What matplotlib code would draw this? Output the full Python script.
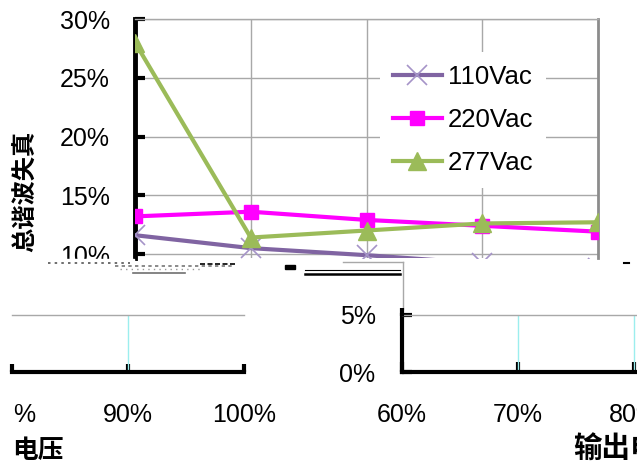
import matplotlib
matplotlib.use('Agg')
import matplotlib.pyplot as plt
from matplotlib.patches import Rectangle

plt.rcParams['font.family'] = ['Liberation Sans', 'Noto Sans CJK SC', 'DejaVu Sans']

W, H = 637, 468

# ---- data (top chart) ----
load_pos = [0, 1, 2, 3, 4]
series_names = ['110Vac', '220Vac', '277Vac']
thd_110 = [11.6, 10.5, 9.9, 9.2, 8.8]
thd_220 = [13.2, 13.6, 12.9, 12.4, 11.9]
thd_277 = [28.0, 11.4, 12.0, 12.6, 12.7]
top_y_ticks = [10, 15, 20, 25, 30]
top_y_labels = ['10%', '15%', '20%', '25%', '30%']
ylabel_top = '总谐波失真'

# ---- fragments of the lower charts ----
left_x_ticks = [80, 90, 100]
left_x_labels = ['80%', '90%', '100%']
xlabel_left = '电压'
right_x_ticks = [60, 70, 80]
right_x_labels = ['60%', '70%', '80%']
right_y_ticks = [0, 5]
right_y_labels = ['0%', '5%']
xlabel_right = '输出电流'

colors = ['#8064A2', '#FF00FF', '#9BBB59']
grid_c = '#A8A8A8'
cyan_c = '#9CEEEE'
CJK = ['Noto Sans CJK SC', 'DejaVu Sans']


def fbox(x0, y0, x1, y1):
    return [x0 / W, 1 - y1 / H, (x1 - x0) / W, (y1 - y0) / H]


fig = plt.figure(figsize=(W / 100, H / 100), dpi=100)

# ---------------- top chart ----------------
ax1 = fig.add_axes(fbox(135, 19, 598, 258))
ax1.set_xlim(0, 4)
ax1.set_ylim(10 - 4 / 11.75, 30)
ax1.plot(load_pos, thd_110, color=colors[0], lw=3, marker='x', ms=14,
         mec='#A594C8', mew=1.2, label=series_names[0], zorder=3)
ax1.plot(load_pos, thd_220, color=colors[1], lw=3, marker='s', ms=9.5,
         mec=colors[1], label=series_names[1], zorder=3)
ax1.plot(load_pos, thd_277, color=colors[2], lw=3, marker='^', ms=13,
         mec=colors[2], label=series_names[2], zorder=4)
ax1.set_yticks(top_y_ticks)
ax1.set_yticklabels(top_y_labels)
ax1.set_xticks(load_pos[1:-1])
ax1.set_xticklabels([])
ax1.grid(True, color=grid_c, lw=1)
ax1.tick_params(axis='x', length=0)
ax1.tick_params(axis='y', direction='in', length=7, width=3, color='black',
                labelsize=18, pad=18)
ax1.spines['left'].set_linewidth(3.5)
ax1.spines['left'].set_color('black')
ax1.spines['right'].set_color('#8C8C8C')
ax1.spines['right'].set_linewidth(2)
ax1.spines['top'].set_color(grid_c)
ax1.spines['top'].set_linewidth(1)
ax1.spines['bottom'].set_visible(False)
leg = ax1.legend(loc='upper left', bbox_to_anchor=(380 / W, 1 - 52 / H),
                 bbox_transform=fig.transFigure, fontsize=18.5, frameon=True,
                 facecolor='white', edgecolor='none', framealpha=1,
                 handlelength=1.9, handletextpad=0.25, labelspacing=0.75,
                 borderpad=0.5, borderaxespad=0)
fig.text(25 / W, 1 - 191 / H, ylabel_top, rotation=90, ha='center', va='center',
         fontsize=17.5, fontweight='bold', family=CJK)

# ---------------- lower-left fragment ----------------
ax2 = fig.add_axes(fbox(12, 315, 244, 372))
ax2.set_xlim(80, 100)
ax2.set_ylim(0, 5)
ax2.axvline(90, color=cyan_c, lw=1)
ax2.set_xticks(left_x_ticks)
ax2.set_xticklabels(left_x_labels)
ax2.set_yticks([])
ax2.tick_params(axis='x', direction='in', length=6, width=3, color='black',
                labelsize=18, pad=22)
for s in ['left', 'right']:
    ax2.spines[s].set_visible(False)
ax2.spines['bottom'].set_linewidth(3)
ax2.spines['top'].set_color(grid_c)
ax2.spines['top'].set_linewidth(1)
ax2.patch.set_alpha(0)

# ---------------- lower-right fragment ----------------
ax3 = fig.add_axes(fbox(402, 315, 637, 372))
ax3.set_xlim(60, 80 + 3 / 11.6)
ax3.set_ylim(0, 5)
for v in right_x_ticks[1:]:
    ax3.axvline(v, color=cyan_c, lw=1)
ax3.set_xticks(right_x_ticks)
ax3.set_xticklabels(right_x_labels)
ax3.set_yticks(right_y_ticks)
ax3.set_yticklabels(right_y_labels)
ax3.tick_params(axis='both', direction='in', length=7, width=3, color='black',
                labelsize=18)
ax3.tick_params(axis='x', pad=22)
ax3.tick_params(axis='y', pad=19)
ax3.spines['right'].set_visible(False)
ax3.spines['left'].set_linewidth(3)
ax3.spines['bottom'].set_linewidth(3)
ax3.spines['top'].set_color(grid_c)
ax3.spines['top'].set_linewidth(1)
ax3.patch.set_alpha(0)

# ---------------- overlay (glitch strip / cuts) ----------------
ov = fig.add_axes([0, 0, 1, 1], zorder=10)
ov.set_xlim(0, W)
ov.set_ylim(H, 0)
ov.axis('off')
ov.patch.set_alpha(0)
ov.add_patch(Rectangle((0, 258.5), 134, 40, color='white', zorder=1))
ov.add_patch(Rectangle((0, 380), 11.5, 52, color='white', zorder=1))
# frame remnants
ov.plot([343, 403], [262, 262], color=grid_c, lw=1, zorder=2)
ov.plot([403, 403], [262, 309], color=grid_c, lw=1, zorder=2)
ov.plot([402, 402], [308, 316], color='black', lw=3, solid_capstyle='butt', zorder=2)
ov.plot([305, 400], [270, 270], color='black', lw=0.8, zorder=2)
ov.plot([305, 400], [273.5, 273.5], color='black', lw=1.8, zorder=2)
ov.add_patch(Rectangle((285, 265), 10, 3.5, color='black', zorder=2))
ov.plot([133, 185], [272.5, 272.5], color='#707070', lw=1.2, zorder=2)
ov.plot([48, 130], [262.5, 262.5], color='#555555', lw=1.2, ls=(0, (1.5, 2.5)), zorder=2)
ov.plot([115, 235], [266, 266], color='#777777', lw=1.2, ls=(0, (2, 2)), zorder=2)
ov.plot([120, 200], [269, 269], color='#999999', lw=1, ls=(0, (1, 3)), zorder=2)
ov.plot([200, 235], [264, 264], color='black', lw=1.2, ls=(0, (3, 1.5)), zorder=2)
ov.plot([624, 629], [263, 263], color='black', lw=1.5, zorder=2)

ov.text(12, 451, xlabel_left, ha='left', va='center', fontsize=18.5,
        fontweight='bold', family=CJK, zorder=3)
ov.text(573, 450, xlabel_right, ha='left', va='center', fontsize=20.5,
        fontweight='bold', family=CJK, zorder=3)

fig.savefig('out.png', dpi=100)
